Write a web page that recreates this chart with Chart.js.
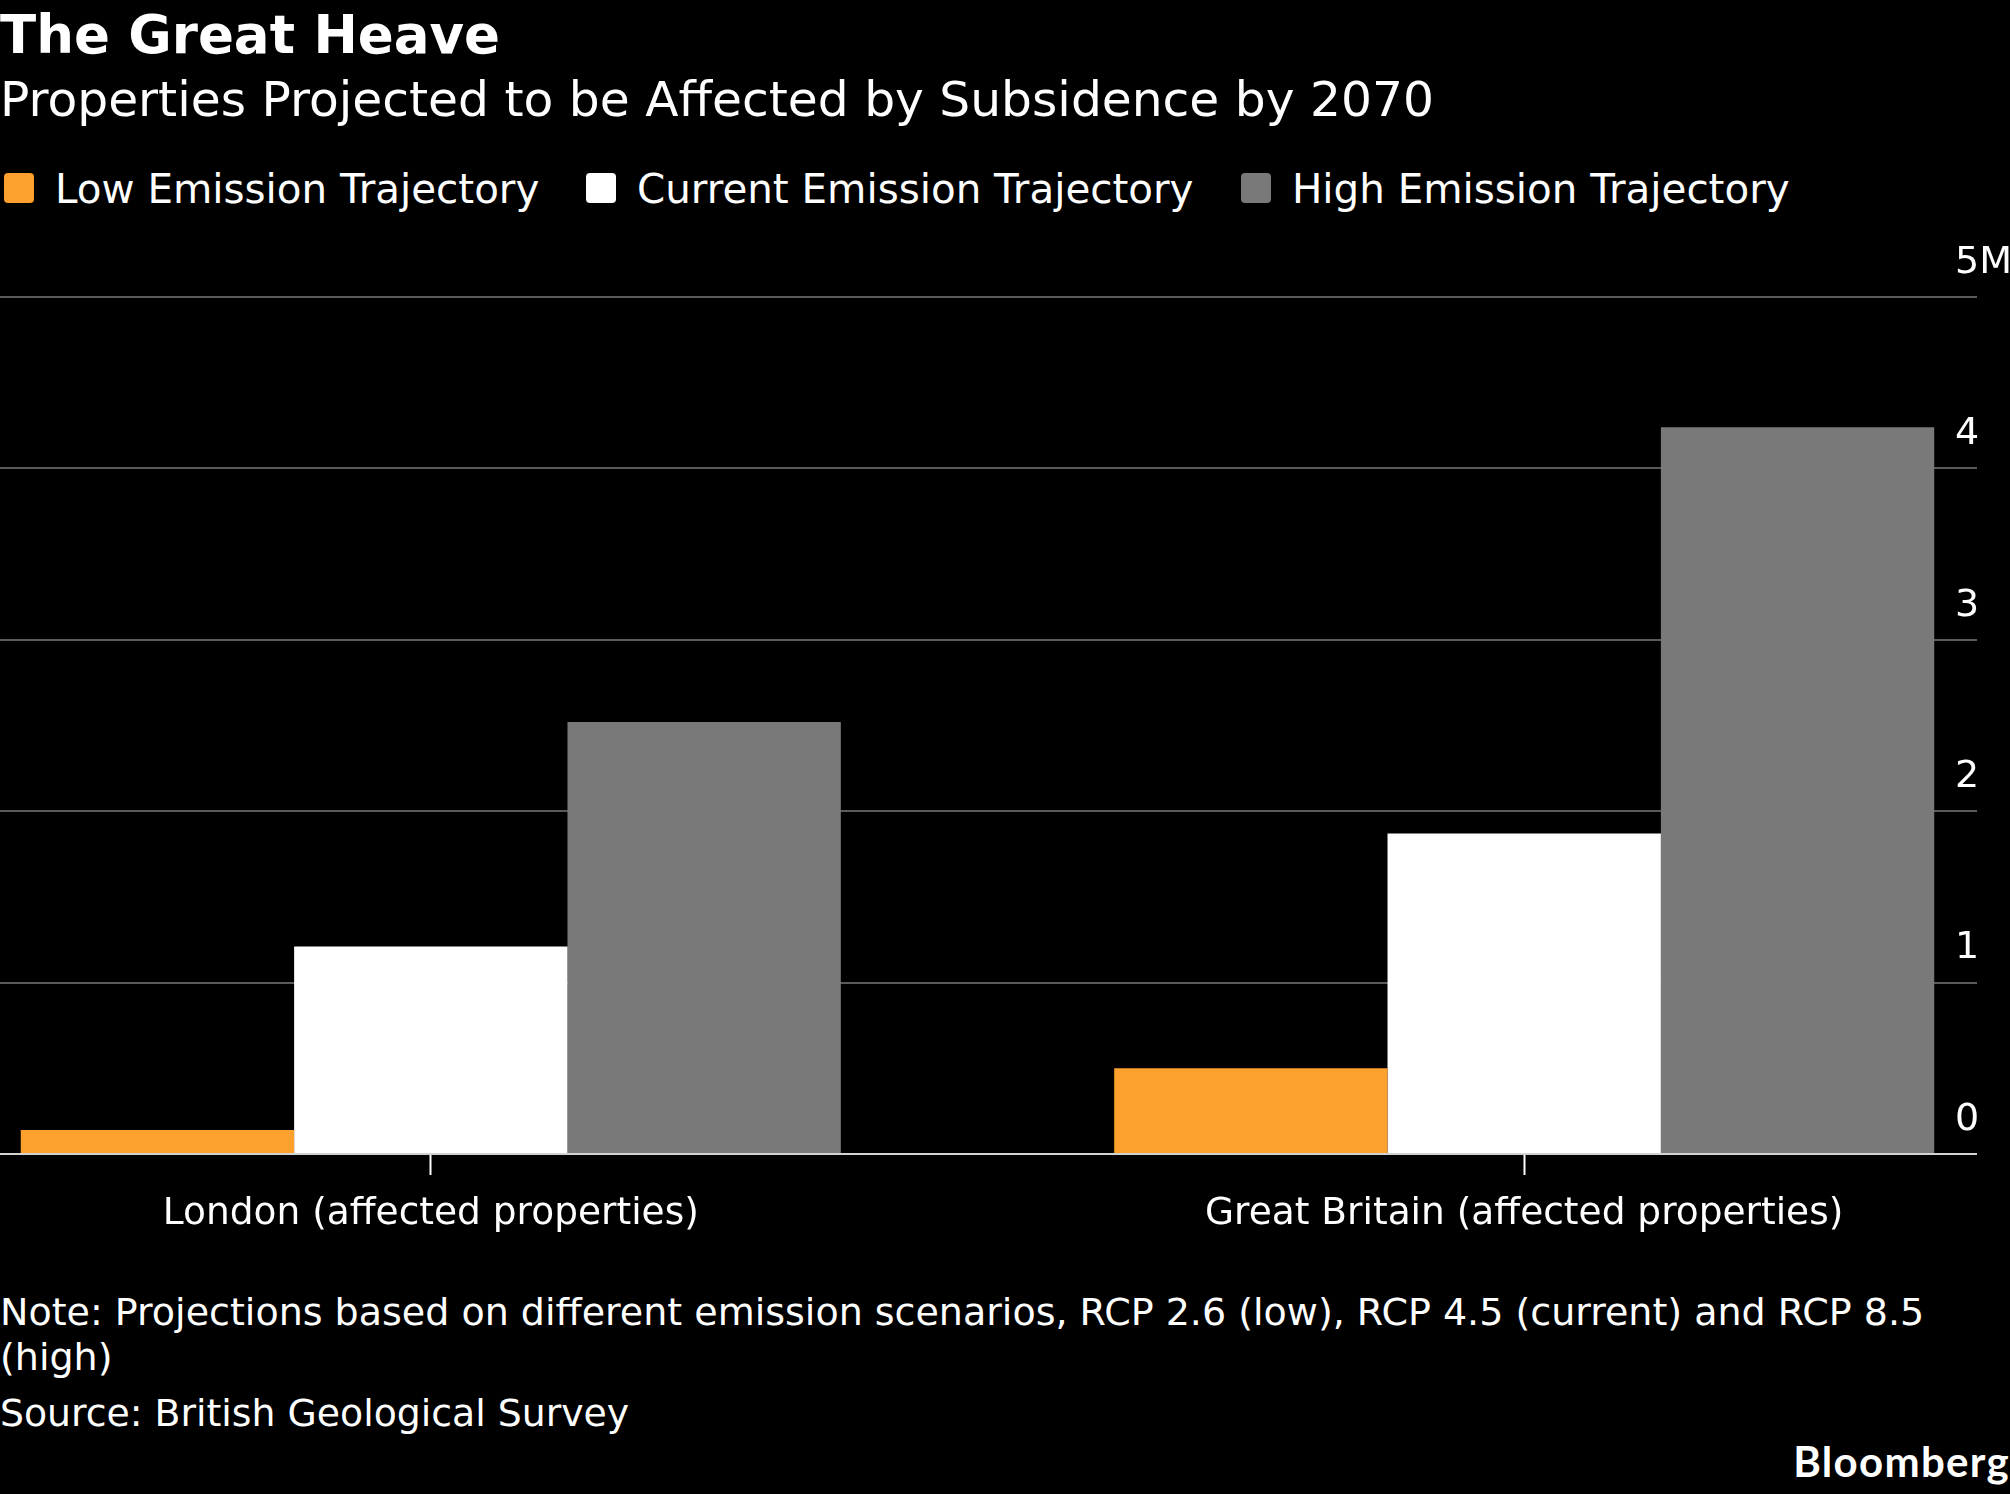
<!DOCTYPE html>
<html>
<head>
<meta charset="utf-8">
<title>The Great Heave</title>
<script src="https://cdn.jsdelivr.net/npm/chart.js@4.4.1/dist/chart.umd.min.js"></script>
<style>
  html, body { margin: 0; padding: 0; background: #000; }
  body { width: 2010px; height: 1494px; position: relative; overflow: hidden; color: #fff; font-family: 'DejaVu Sans', sans-serif; }
  .abs { position: absolute; white-space: nowrap; }
  #title { left: 0; top: 8px; font-size: 53px; font-weight: bold; line-height: 1; }
  #subtitle { left: 0; top: 75px; font-size: 48.7px; line-height: 1; }
  .swatch { position: absolute; top: 173px; width: 30px; height: 30px; border-radius: 4px; }
  .legtext { position: absolute; top: 169px; font-size: 40.4px; line-height: 1; white-space: nowrap; }
  #note { left: 0; top: 1290px; font-size: 38px; line-height: 45px; }
  #source { left: 0; top: 1395px; font-size: 37.8px; line-height: 1; }
  #brand { right: 0; top: 1440px; font-family: Lato, sans-serif; font-weight: bold; font-size: 42px; line-height: 1; letter-spacing: 1.3px; }
  #chartBox { position: absolute; left: 0; top: 240px; width: 2010px; height: 1020px; }
</style>
</head>
<body>
<div id="title" class="abs">The Great Heave</div>
<div id="subtitle" class="abs">Properties Projected to be Affected by Subsidence by 2070</div>
<div id="legend"></div>
<div id="chartBox"><canvas id="grafico"></canvas></div>
<div id="note" class="abs">Note: Projections based on different emission scenarios, RCP 2.6 (low), RCP 4.5 (current) and RCP 8.5<br>(high)</div>
<div id="source" class="abs">Source: British Geological Survey</div>
<div id="brand" class="abs">Bloomberg</div>

<script>
// Dados (milhões de imóveis)
const categorias = ['London (affected properties)', 'Great Britain (affected properties)'];
const series = ['Low Emission Trajectory', 'Current Emission Trajectory', 'High Emission Trajectory'];
const baixa = [0.14, 0.50];
const atual = [1.21, 1.87];
const alta = [2.52, 4.24];
const yTicks = [0, 1, 2, 3, 4, 5];
const cores = ['#fca12d', '#ffffff', '#797979'];

const FONTE = "'DejaVu Sans', sans-serif";

function pontos(valores) {
    return valores.map((v, i) => ({ x: i, y: v }));
}

const ctx = document.getElementById('grafico').getContext('2d');
const grafico = new Chart(ctx, {
    type: 'bar',
    data: {
        datasets: [
            { label: series[0], data: pontos(baixa), backgroundColor: cores[0] },
            { label: series[1], data: pontos(atual), backgroundColor: cores[1] },
            { label: series[2], data: pontos(alta), backgroundColor: cores[2] }
        ]
    },
    options: {
        responsive: true,
        maintainAspectRatio: false,
        animation: false,
        layout: { padding: { top: 57, left: 0, right: 0, bottom: 0 } },
        datasets: {
            bar: { categoryPercentage: 0.75, barPercentage: 1.0, borderWidth: 0 }
        },
        plugins: {
            legend: { display: false },
            tooltip: { enabled: false }
        },
        scales: {
            x: {
                type: 'linear',
                offset: false,
                min: -0.394,
                max: 1.394,
                afterBuildTicks: function (scale) {
                    scale.ticks = categorias.map((c, i) => ({ value: i }));
                },
                afterFit: function (scale) {
                    scale.height = 106;
                },
                grid: {
                    offset: false,
                    drawOnChartArea: false,
                    drawTicks: true,
                    tickLength: 21,
                    tickColor: '#ffffff',
                    tickWidth: 2
                },
                border: { display: true, color: '#d2d2d2', width: 2, z: 1 },
                ticks: {
                    color: '#ffffff',
                    padding: 17,
                    maxRotation: 0,
                    autoSkip: false,
                    font: { family: FONTE, size: 37.5 },
                    callback: function (value, index) {
                        return categorias[index];
                    }
                }
            },
            y: {
                position: 'right',
                min: 0,
                max: 5,
                afterBuildTicks: function (scale) {
                    scale.ticks = yTicks.map(v => ({ value: v }));
                },
                afterFit: function (scale) {
                    scale.width = 55;
                },
                grid: {
                    drawTicks: true,
                    tickLength: 22,
                    lineWidth: 2,
                    color: function (c) {
                        return c.tick && c.tick.value === 0 ? '#d2d2d2' : '#5a5a5a';
                    }
                },
                border: { display: false },
                ticks: {
                    color: '#ffffff',
                    crossAlign: 'near',
                    padding: -22,
                    labelOffset: -34,
                    font: { family: FONTE, size: 38 },
                    callback: function (value) {
                        return value === 5 ? '5M' : String(value);
                    }
                }
            }
        }
    }
});

// Monta a legenda a partir dos datasets
const legenda = document.getElementById('legend');
const posCaixa = [4, 586, 1241];
grafico.data.datasets.forEach((ds, i) => {
    const caixa = document.createElement('div');
    caixa.className = 'swatch';
    caixa.style.left = posCaixa[i] + 'px';
    caixa.style.background = ds.backgroundColor;
    legenda.appendChild(caixa);

    const texto = document.createElement('div');
    texto.className = 'legtext';
    texto.style.left = (posCaixa[i] + 51) + 'px';
    texto.textContent = ds.label;
    legenda.appendChild(texto);
});
</script>
</body>
</html>
